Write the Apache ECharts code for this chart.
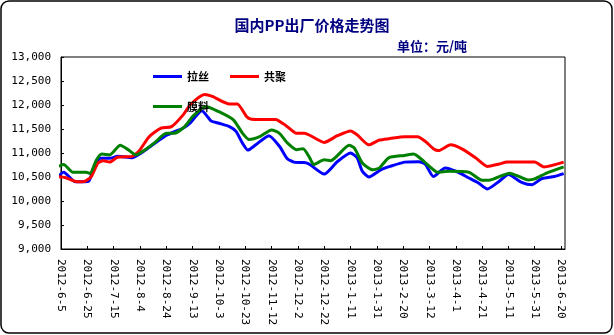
<!DOCTYPE html>
<html><head><meta charset="utf-8">
<script src="https://cdn.jsdelivr.net/npm/echarts@6/dist/echarts.min.js"></script>
<style>html,body{margin:0;padding:0;background:#fff}#c{width:614px;height:335px}</style>
</head><body><div id="c"></div>
<script>
const titleText = '国内PP出厂价格走势图';
const unitText = '单位：元/吨';
const seriesNames = ['拉丝', '共聚', '膜料'];
const xTickLabels = ['2012-6-5','2012-6-25','2012-7-15','2012-8-4','2012-8-24','2012-9-13','2012-10-3','2012-10-23','2012-11-12','2012-12-2','2012-12-22','2013-1-11','2013-1-31','2013-2-20','2013-3-12','2013-4-1','2013-4-21','2013-5-11','2013-5-31','2013-6-20'];

const blueDates = ['2012-6-1','2012-6-7','2012-6-16','2012-6-26','2012-6-29','2012-7-5','2012-7-12','2012-7-18','2012-7-29','2012-8-5','2012-8-15','2012-8-25','2012-9-6','2012-9-11','2012-9-20','2012-9-27','2012-10-3','2012-10-11','2012-10-16','2012-10-21','2012-10-25','2012-10-31','2012-11-10','2012-11-18','2012-11-24','2012-11-29','2012-12-7','2012-12-11','2012-12-22','2013-1-1','2013-1-11','2013-1-16','2013-1-20','2013-1-25','2013-2-3','2013-2-10','2013-2-21','2013-3-4','2013-3-9','2013-3-15','2013-3-24','2013-4-1','2013-4-11','2013-4-18','2013-4-25','2013-5-4','2013-5-11','2013-5-21','2013-5-29','2013-6-5','2013-6-15','2013-6-22'];
const blueValues = [10450,10600,10400,10410,10620,10890,10890,10930,10900,11000,11200,11380,11520,11620,11880,11670,11620,11550,11450,11200,11060,11170,11360,11140,10880,10810,10800,10760,10560,10820,11000,10900,10620,10500,10650,10720,10810,10820,10760,10510,10690,10620,10480,10380,10250,10410,10550,10390,10340,10460,10510,10570];

const redDates = ['2012-6-1','2012-6-8','2012-6-17','2012-6-23','2012-6-28','2012-7-3','2012-7-7','2012-7-12','2012-7-18','2012-7-29','2012-8-3','2012-8-11','2012-8-20','2012-8-28','2012-9-6','2012-9-11','2012-9-22','2012-9-28','2012-10-11','2012-10-17','2012-10-24','2012-10-27','2012-11-4','2012-11-15','2012-11-23','2012-12-1','2012-12-7','2012-12-11','2012-12-22','2013-1-1','2013-1-11','2013-1-16','2013-1-25','2013-2-2','2013-2-10','2013-2-21','2013-3-3','2013-3-9','2013-3-15','2013-3-19','2013-3-28','2013-4-6','2013-4-16','2013-4-25','2013-5-4','2013-5-10','2013-5-31','2013-6-7','2013-6-22'];
const redValues = [10510,10490,10400,10410,10510,10790,10840,10810,10910,10930,11030,11340,11520,11550,11800,12000,12220,12180,12020,12020,11760,11710,11700,11700,11570,11410,11410,11370,11220,11360,11460,11380,11170,11270,11300,11340,11340,11240,11090,11050,11170,11080,10900,10720,10770,10810,10810,10710,10810];

const greenDates = ['2012-6-1','2012-6-7','2012-6-14','2012-6-24','2012-6-27','2012-7-2','2012-7-6','2012-7-12','2012-7-20','2012-7-26','2012-8-1','2012-8-8','2012-8-15','2012-8-24','2012-8-30','2012-9-7','2012-9-13','2012-9-23','2012-10-3','2012-10-14','2012-10-21','2012-10-26','2012-11-3','2012-11-12','2012-11-18','2012-11-24','2012-12-1','2012-12-6','2012-12-11','2012-12-14','2012-12-22','2012-12-27','2013-1-10','2013-1-14','2013-1-20','2013-1-28','2013-2-2','2013-2-9','2013-2-21','2013-2-28','2013-3-8','2013-3-12','2013-3-18','2013-3-27','2013-4-11','2013-4-21','2013-4-26','2013-5-12','2013-5-20','2013-5-26','2013-5-31','2013-6-9','2013-6-22'];
const greenValues = [10700,10760,10600,10600,10575,10860,10980,10960,11160,11070,10960,11070,11210,11410,11410,11550,11760,11970,11860,11690,11410,11280,11340,11480,11410,11210,11070,11090,10900,10760,10860,10840,11160,11100,10790,10650,10690,10900,10950,10980,10820,10720,10600,10620,10600,10430,10430,10580,10500,10440,10460,10580,10710];

const base = Date.UTC(2012, 5, 5);
function dayOf(s) { const p = s.split('-').map(Number); return Math.round((Date.UTC(p[0], p[1] - 1, p[2]) - base) / 86400000); }
function pairs(ds, vs) { return ds.map((d, i) => [dayOf(d), vs[i]]); }

const chart = echarts.init(document.getElementById('c'), null, { renderer: 'canvas' });
const colors = ['#0000FF', '#FF0000', '#008000'];
const datas = [pairs(blueDates, blueValues), pairs(redDates, redValues), pairs(greenDates, greenValues)];
const cjk = '"Noto Sans CJK SC", sans-serif';
const mono = '"DejaVu Sans Mono", monospace';

chart.setOption({
  animation: false,
  backgroundColor: '#fff',
  color: colors,
  title: [
    { text: titleText, left: 307, textAlign: 'center', top: 13, textStyle: { color: '#000080', fontSize: 15, fontWeight: 'bold', fontFamily: cjk } },
    { text: unitText, left: 392, top: 35, textStyle: { color: '#000080', fontSize: 13, fontWeight: 'bold', fontFamily: cjk } }
  ],
  legend: [
    { data: [seriesNames[0], seriesNames[1]], left: 148, top: 66, itemWidth: 29, itemHeight: 3, itemGap: 21, icon: 'rect',
      textStyle: { color: '#000', fontSize: 11, fontWeight: 'bold', fontFamily: cjk } },
    { data: [seriesNames[2]], left: 148, top: 96, itemWidth: 29, itemHeight: 3, icon: 'rect',
      textStyle: { color: '#000', fontSize: 11, fontWeight: 'bold', fontFamily: cjk } }
  ],
  grid: { left: 61, right: 49, top: 57, bottom: 86, show: true, borderColor: '#000', borderWidth: 1, containLabel: false },
  xAxis: {
    type: 'value', min: 0, max: 383, interval: 20,
    axisLine: { lineStyle: { color: '#000', width: 1 } },
    axisTick: { inside: true, length: 3, lineStyle: { color: '#000' } },
    splitLine: { show: false },
    axisLabel: {
      rotate: -90, margin: 10, color: '#000', fontSize: 11, fontFamily: mono,
      showMaxLabel: false,
      formatter: v => (v % 20 === 0 && xTickLabels[v / 20] !== undefined) ? xTickLabels[v / 20] : ''
    }
  },
  yAxis: {
    type: 'value', min: 9000, max: 13000, interval: 500,
    axisLine: { show: true, lineStyle: { color: '#000', width: 1 } },
    axisTick: { show: true, inside: true, length: 3, lineStyle: { color: '#000' } },
    splitLine: { show: false },
    axisLabel: { margin: 10, color: '#000', fontSize: 11, fontFamily: mono,
      formatter: v => String(v).replace(/\B(?=(\d{3})+(?!\d))/g, ',') }
  },
  series: seriesNames.map((n, i) => ({
    name: n, type: 'line', data: datas[i], showSymbol: false, symbol: 'none', smooth: 0.2, clip: false,
    lineStyle: { width: 3, color: colors[i] }
  })),
  graphic: [
    { type: 'rect', shape: { x: 1, y: 1, width: 611, height: 332, r: 8 }, style: { fill: 'none', stroke: '#000', lineWidth: 1.5 }, silent: true, z: 100 }
  ]
});
</script></body></html>
